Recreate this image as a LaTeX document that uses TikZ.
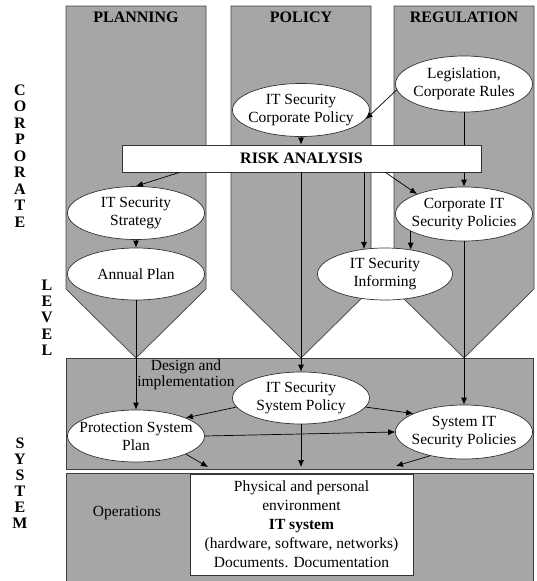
\documentclass[tikz,border=0pt]{standalone}
\usepackage{fontspec}
\setmainfont{Liberation Serif}
\usetikzlibrary{shapes.geometric,arrows.meta,calc}

\begin{document}
\begin{tikzpicture}[x=1pt,y=-1pt,
	bande/.style={fill=gray!70, draw=black!75, line width=0.7pt},
	bulle/.style={ellipse, draw=black!80, fill=white, line width=0.7pt, minimum width=137pt, minimum height=52pt, inner xsep=-20pt, inner ysep=-10pt, align=center, font=\fontsize{15.5}{18}\selectfont},
	titre/.style={font=\fontsize{16}{16}\bfseries\selectfont},
	lettre/.style={font=\fontsize{16}{16}\bfseries\selectfont, inner sep=0pt},
	texte/.style={font=\fontsize{15.5}{16}\selectfont, align=center},
	fleche/.style={-{Latex[length=7pt,width=6pt]}, line width=0.7pt}]
	\useasboundingbox (0,0) rectangle (537,581);
	
	% Colonnes
	\foreach \cx/\nom in {136/PLANNING,301/POLICY,464/REGULATION} {
		\draw[bande] (\cx-70,6) -- (\cx+70,6) -- (\cx+70,289) -- (\cx,358) -- (\cx-70,289) -- cycle;
		\node[titre] (t\cx) at (\cx,17) {\nom};
	}
	
	% Bandes systeme
	\draw[bande] (66,358) rectangle (533,469);
	\draw[bande] (66,473) rectangle (533,581);
	
	% Lettres verticales
	\foreach \l [count=\i from 0] in {C,O,R,P,O,R,A,T,E}
		\node[lettre] (corp\i) at (20,90+16.5*\i) {\l};
	\foreach \l [count=\i from 0] in {L,E,V,E,L}
		\node[lettre] (lev\i) at (47,285+16.3*\i) {\l};
	\foreach \l [count=\i from 0] in {S,Y,S,T,E,M}
		\node[lettre] (sys\i) at (20,443+16*\i) {\l};
	
	% Bulles
	\node[bulle, minimum height=56pt] (leg) at (464,84) {Legislation,\\Corporate Rules};
	\node[bulle, minimum height=53pt] (corppolicy) at (301,110) {IT Security\\Corporate Policy};
	\node[bulle, minimum height=53pt] (strat) at (136,213) {IT Security\\Strategy};
	\node[bulle] (annual) at (136,274) {Annual Plan};
	\node[bulle, minimum height=54pt] (corppol) at (464,214) {Corporate IT\\Security Policies};
	\node[bulle, minimum width=135pt] (inform) at (385,274) {IT Security\\Informing};
	\node[bulle] (syspolicy) at (301,398) {IT Security\\System Policy};
	\node[bulle] (protplan) at (136,436) {Protection System\\Plan};
	\node[bulle, minimum height=54pt] (syspol) at (464,432) {System IT\\Security Policies};
	
	% Fleche sous l'analyse de risque
	\draw[fleche] (leg.south) -- (corppol.north);
	
	% Analyse de risque
	\node[titre, draw=black!80, fill=white, line width=0.7pt, minimum width=359pt, minimum height=27pt] (risk) at (301.5,158.5) {RISK ANALYSIS};
	
	% Textes
	\node[texte] (design) at (186,375) {Design and\\implementation};
	\node[texte] (ops) at (127,513) {Operations};
	\node[draw=black!80, fill=white, line width=0.7pt, minimum width=223pt, minimum height=101pt, align=center, font=\fontsize{15.5}{19}\selectfont] (phys) at (301.5,524.5) {Physical and personal\\environment\\\textbf{IT system}\\(hardware, software, networks)\\Documents. Documentation};
	
	% Fleches
	\draw[fleche] (corppolicy.south) -- (corppolicy.south |- risk.north);
	\draw[fleche] (leg.185) -- (corppolicy.352);
	\draw[fleche] ($(risk.south west)+(58,0)$) -- (strat.north);
	\draw[fleche] ($(risk.south east)+(-96,0)$) -- (corppol.157);
	\draw[fleche] (risk.south -| inform.130) -- (inform.130);
	\draw[fleche] (risk.south -| syspolicy.north) -- (syspolicy.north);
	\draw[fleche] (corppol.198) -- (corppol.198 |- inform.43);
	\draw[fleche] (strat.south) -- (annual.north);
	\draw[fleche] (annual.south) -- (protplan.north);
	\draw[fleche] (corppol.south) -- (syspol.north);
	\draw[fleche] (syspolicy.188) -- (protplan.20);
	\draw[fleche] (syspolicy.352) -- (syspol.160);
	\draw[fleche] (protplan.east) -- (syspol.west);
	
	% Vers l'exploitation
	\coordinate (opsA) at (208,467);
	\coordinate (opsB) at (301,467);
	\coordinate (opsC) at (396,466);
	\draw[fleche] (protplan.-20) -- (opsA);
	\draw[fleche] (syspolicy.south) -- (opsB);
	\draw[fleche] (syspol.215) -- (opsC);
\end{tikzpicture}
\end{document}
